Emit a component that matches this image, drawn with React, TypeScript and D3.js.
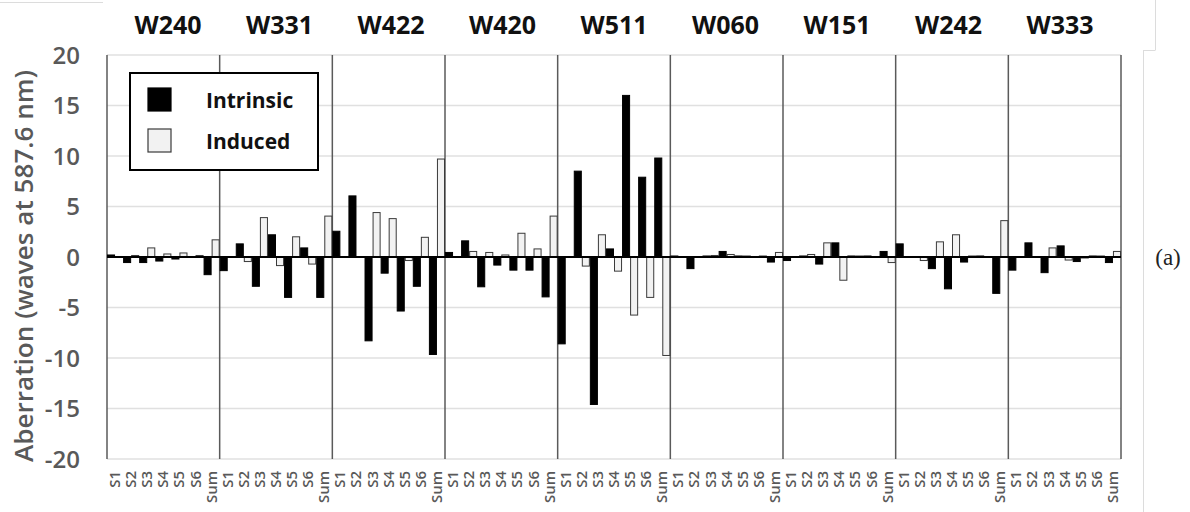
import React, { useEffect, useRef } from 'react';
import * as d3 from 'd3';

// groups along the top, categories under each group
const groups = ['W240', 'W331', 'W422', 'W420', 'W511', 'W060', 'W151', 'W242', 'W333'];
const categories = ['S1', 'S2', 'S3', 'S4', 'S5', 'S6', 'Sum'];
const seriesNames = ['Intrinsic', 'Induced'];
const yTicks = [-20, -15, -10, -5, 0, 5, 10, 15, 20];

// values, one row per group, in category order
const intrinsic = [
  [0.2, -0.55, -0.55, -0.4, -0.2, 0.05, -1.75],
  [-1.35, 1.3, -2.9, 2.2, -4.0, 0.9, -4.0],
  [2.55, 6.05, -8.3, -1.6, -5.35, -2.9, -9.65],
  [0.45, 1.6, -2.95, -0.8, -1.3, -1.3, -3.95],
  [-8.6, 8.5, -14.6, 0.8, 16.0, 7.9, 9.8],
  [0.1, -1.15, 0.1, 0.55, 0.1, 0.05, -0.5],
  [-0.35, 0.1, -0.7, 1.4, 0.1, 0.1, 0.55],
  [1.3, 0.05, -1.15, -3.15, -0.5, 0.1, -3.6],
  [-1.3, 1.4, -1.55, 1.1, -0.45, 0.1, -0.55],
];
const induced = [
  [0.05, 0.15, 0.9, 0.3, 0.4, 0.15, 1.7],
  [0.0, -0.45, 3.9, -0.85, 2.0, -0.7, 4.05],
  [0.0, 0.0, 4.4, 3.8, -0.35, 1.95, 9.7],
  [0.0, 0.55, 0.45, 0.2, 2.35, 0.8, 4.05],
  [0.0, -0.9, 2.2, -1.4, -5.75, -4.0, -9.75],
  [0.0, 0.05, 0.15, 0.25, 0.1, 0.1, 0.45],
  [0.0, 0.25, 1.4, -2.3, 0.1, 0.05, -0.55],
  [0.0, -0.35, 1.5, 2.2, 0.1, 0.0, 3.6],
  [0.0, 0.0, 0.9, -0.3, -0.1, 0.1, 0.55],
];

const W = 1190;
const H = 512;
const FONT = "'Open Sans', 'DejaVu Sans', sans-serif";
const GRAY = '#595959';

export default function App() {
  const ref = useRef<SVGSVGElement | null>(null);

  useEffect(() => {
    const svg = d3.select(ref.current);
    svg.selectAll('*').remove();

    // 绘图区
    const left = 107;
    const right = 1121;
    const top = 55;
    const bottom = 459;

    const y = d3.scaleLinear().domain([-20, 20]).range([bottom, top]);
    const xGroup = d3.scaleBand().domain(groups).range([left, right]).padding(0);
    const xCat = d3.scaleBand().domain(categories).range([0, xGroup.bandwidth()]).padding(0);
    const xSeries = d3.scaleBand().domain(seriesNames).range([0, xCat.bandwidth()]).padding(0);

    // page frame bits
    const frame = svg.append('g').attr('stroke', '#dcdcdc').attr('stroke-width', 1);
    frame.append('line').attr('x1', 0).attr('x2', 103).attr('y1', 2.5).attr('y2', 2.5);
    frame.append('line').attr('x1', 1155.5).attr('x2', 1155.5).attr('y1', 0).attr('y2', 50);
    frame.append('line').attr('x1', 1143).attr('x2', 1155.5).attr('y1', 50.5).attr('y2', 50.5);
    frame.append('line').attr('x1', 1143.5).attr('x2', 1143.5).attr('y1', 50).attr('y2', H);

    // 横向网格
    svg
      .append('g')
      .selectAll('line')
      .data(yTicks.filter((d) => d !== 0))
      .enter()
      .append('line')
      .attr('x1', left)
      .attr('x2', right)
      .attr('y1', (d) => y(d))
      .attr('y2', (d) => y(d))
      .attr('stroke', '#e0e0e0')
      .attr('stroke-width', 1.5);

    // group dividers
    const dividers = [...groups.map((g) => xGroup(g) as number), right];
    svg
      .append('g')
      .selectAll('line')
      .data(dividers)
      .enter()
      .append('line')
      .attr('x1', (d) => d)
      .attr('x2', (d) => d)
      .attr('y1', top)
      .attr('y2', bottom)
      .attr('stroke', '#5a5a5a')
      .attr('stroke-width', 1.5);

    // bars
    const bars: { g: string; c: string; s: string; v: number }[] = [];
    groups.forEach((g, gi) => {
      categories.forEach((c, ci) => {
        bars.push({ g, c, s: 'Intrinsic', v: intrinsic[gi][ci] });
        bars.push({ g, c, s: 'Induced', v: induced[gi][ci] });
      });
    });
    svg
      .append('g')
      .selectAll('rect')
      .data(bars)
      .enter()
      .append('rect')
      .attr('x', (d) => (xGroup(d.g) as number) + (xCat(d.c) as number) + (xSeries(d.s) as number) + 0.5)
      .attr('width', xSeries.bandwidth() - 1)
      .attr('y', (d) => Math.min(y(d.v), y(0)))
      .attr('height', (d) => Math.abs(y(d.v) - y(0)))
      .attr('fill', (d) => (d.s === 'Intrinsic' ? '#000' : '#f2f2f2'))
      .attr('stroke', (d) => (d.s === 'Intrinsic' ? '#000' : '#3a3a3a'))
      .attr('stroke-width', 1);

    // zero line
    svg
      .append('line')
      .attr('x1', left)
      .attr('x2', right)
      .attr('y1', y(0))
      .attr('y2', y(0))
      .attr('stroke', '#000')
      .attr('stroke-width', 2);

    // y tick labels
    svg
      .append('g')
      .selectAll('text')
      .data(yTicks)
      .enter()
      .append('text')
      .attr('x', 80)
      .attr('y', (d) => y(d))
      .attr('dy', '0.36em')
      .attr('text-anchor', 'end')
      .attr('font-family', FONT)
      .attr('font-size', 24)
      .attr('font-weight', 600)
      .attr('fill', GRAY)
      .text((d) => d);

    // y title
    svg
      .append('text')
      .attr('transform', `translate(33,266) rotate(-90)`)
      .attr('text-anchor', 'middle')
      .attr('font-family', FONT)
      .attr('font-size', 26)
      .attr('font-weight', 600)
      .attr('fill', GRAY)
      .attr('textLength', 392)
      .attr('lengthAdjust', 'spacingAndGlyphs')
      .text('Aberration (waves at 587.6 nm)');

    // x category labels, rotated
    const xLabels: { g: string; c: string }[] = [];
    groups.forEach((g) => categories.forEach((c) => xLabels.push({ g, c })));
    svg
      .append('g')
      .selectAll('text')
      .data(xLabels)
      .enter()
      .append('text')
      .attr('transform', (d) => {
        const cx = (xGroup(d.g) as number) + (xCat(d.c) as number) + xCat.bandwidth() / 2;
        return `translate(${cx + 5},471) rotate(-90)`;
      })
      .attr('text-anchor', 'end')
      .attr('font-family', FONT)
      .attr('font-size', 15)
      .attr('font-weight', 600)
      .attr('fill', GRAY)
      .text((d) => d.c);

    // group titles on top
    const xTitle = d3.scalePoint().domain(groups).range([168, 1060]);
    svg
      .append('g')
      .selectAll('text')
      .data(groups)
      .enter()
      .append('text')
      .attr('x', (d) => xTitle(d) as number)
      .attr('y', 34)
      .attr('text-anchor', 'middle')
      .attr('font-family', FONT)
      .attr('font-size', 25)
      .attr('font-weight', 700)
      .attr('fill', '#111')
      .text((d) => d);

    // legend
    const legend = svg.append('g').attr('transform', 'translate(130,73)');
    legend
      .append('rect')
      .attr('width', 188)
      .attr('height', 97)
      .attr('fill', '#fff')
      .attr('stroke', '#000')
      .attr('stroke-width', 2);
    const item = legend
      .selectAll('.legend')
      .data(seriesNames)
      .enter()
      .append('g')
      .attr('class', 'legend')
      .attr('transform', (d, i) => `translate(18,${15 + i * 41})`);
    item
      .append('rect')
      .attr('width', 23)
      .attr('height', 23)
      .attr('fill', (d) => (d === 'Intrinsic' ? '#000' : '#f2f2f2'))
      .attr('stroke', (d) => (d === 'Intrinsic' ? '#000' : '#3a3a3a'))
      .attr('stroke-width', 1.2);
    item
      .append('text')
      .attr('x', 58)
      .attr('y', 12)
      .attr('dy', '0.36em')
      .attr('font-family', FONT)
      .attr('font-size', 21)
      .attr('font-weight', 700)
      .attr('fill', '#111')
      .text((d) => d);

    // panel mark
    svg
      .append('text')
      .attr('x', 1168)
      .attr('y', y(0))
      .attr('dy', '0.36em')
      .attr('text-anchor', 'middle')
      .attr('font-family', "'Liberation Serif', 'DejaVu Serif', serif")
      .attr('font-size', 23)
      .attr('fill', '#222')
      .text('(a)');
  }, []);

  return (
    <div style={{ position: 'absolute', left: 0, top: 0 }}>
      <svg ref={ref} width={W} height={H} style={{ display: 'block', background: '#fff' }} />
    </div>
  );
}
